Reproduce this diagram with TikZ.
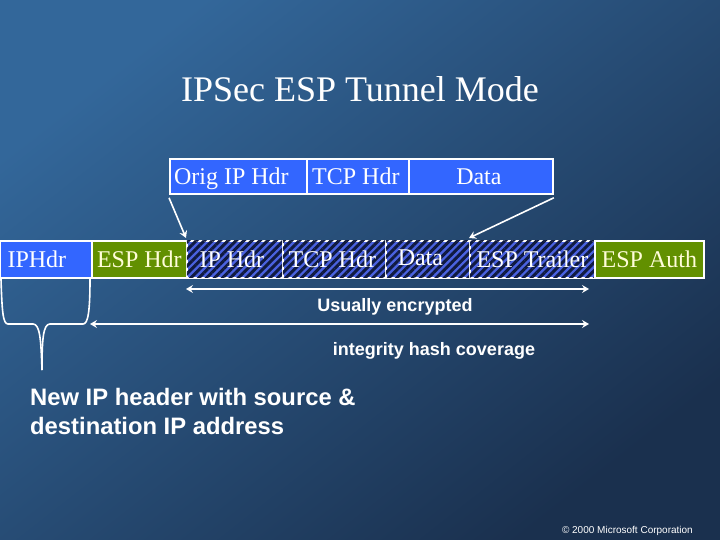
\documentclass[tikz,border=0pt]{standalone}
\usepackage{fontspec}
\setmainfont{Liberation Serif}
\setsansfont{Liberation Sans}
\usetikzlibrary{patterns.meta,arrows.meta}
\definecolor{bgtop}{HTML}{33679A}
\definecolor{bgbot}{HTML}{1A304E}
\definecolor{hdrblue}{HTML}{3366FF}
\definecolor{espgreen}{HTML}{629000}
\definecolor{hatchblue}{HTML}{4A62E0}
\definecolor{hatchdark}{HTML}{101A40}
\begin{document}
\begin{tikzpicture}[x=1pt,y=-1pt,>={Stealth[length=7pt,width=8pt,inset=2.5pt]}]
\tikzstyle{pkt}=[draw=white,line width=1.8pt,inner sep=0pt,anchor=north west,text=white,text height=21pt,text depth=5pt,font=\fontsize{24}{24}\selectfont]
\tikzstyle{plain}=[pkt,fill=hdrblue,minimum height=35pt]
\tikzstyle{low}=[pkt,fill=hdrblue,minimum height=37pt]
\tikzstyle{auth}=[pkt,fill=espgreen,minimum height=37pt,text=white!85!yellow]
\tikzstyle{enc}=[pkt,minimum height=37pt,fill=hatchblue,postaction={pattern={Lines[angle=45,distance=5.6pt,line width=3pt]},pattern color=hatchdark}]
\tikzstyle{link}=[draw=white,line width=1.6pt]
\tikzstyle{lbl}=[text=white,font=\sffamily\bfseries\fontsize{18}{18}\selectfont,inner sep=0pt]
\tikzstyle{note}=[text=white,font=\sffamily\bfseries\fontsize{23.8}{29}\selectfont,inner sep=0pt,align=left,anchor=north west]
\useasboundingbox (0,0) rectangle (720,540);
\shade[shading=axis,top color=bgtop,bottom color=bgbot,shading angle=38] (0,0) rectangle (720,540);
\node[text=white,font=\fontsize{36}{36}\selectfont,inner sep=0pt] at (360,89) (title) {IPSec ESP Tunnel Mode};
% original packet
\node[plain,minimum width=137pt] at (169,158) (orig) {\kern-14pt Orig IP Hdr};
\node[plain,minimum width=102pt] at (306,158) (tcp) {\kern-4pt TCP Hdr};
\node[plain,minimum width=144pt] at (408,158) (data) {\kern-4pt Data};
% packet in tunnel mode
\node[low,minimum width=92pt] at (-1,240) (newip) {\kern-18pt IPHdr};
\node[auth,minimum width=95pt] at (91,240) (esphdr) {ESP Hdr};
\node[enc,minimum width=96pt] at (186,240) (iphdr) {\kern-6pt IP Hdr};
\node[enc,minimum width=103pt] at (282,240) (tcphdr) {\kern-4pt TCP Hdr};
\node[enc,minimum width=84pt] at (385,240) (encdata) {\kern-15pt\raisebox{2pt}{Data}};
\node[enc,minimum width=125pt] at (469,240) (trailer) {ESP Trailer};
\node[auth,minimum width=109pt] at (594,240) (espauth) {ESP Auth};
\draw[link,->] ([yshift=-3pt]orig.south west) -- ([yshift=2pt]iphdr.north west);
\draw[link,->] ([yshift=-3pt]data.south east) -- ([yshift=2pt]trailer.north west);
% coverage
\coordinate (encl) at (186,289);
\coordinate (encr) at (589,289);
\coordinate (intl) at (90,324);
\coordinate (intr) at (589,324);
\draw[link,<->] (encl) -- (encr);
\draw[link,<->] (intl) -- (intr);
\node[lbl] at (395,307) (enclabel) {Usually encrypted};
\node[lbl] at (434,351) (intlabel) {integrity hash coverage};
% brace under new header
\coordinate (bracel) at (1,279);
\coordinate (bracer) at (90,279);
\coordinate (bracetip) at (42,370);
\draw[link] (bracel) .. controls (2,312) and (3,324) .. (8,324) -- (33,324) .. controls (40,324) and (41,340) .. (bracetip);
\draw[link] (bracer) .. controls (90,312) and (88,324) .. (83,324) -- (50,324) .. controls (43,324) and (42,340) .. (bracetip);
\node[note] at (30,388) (newnote) {New IP header with source \&\\destination IP address};
\node[text=white,font=\sffamily\fontsize{10}{10}\selectfont,inner sep=0pt,anchor=east] at (693,531) (copy) {© 2000 Microsoft Corporation};
\end{tikzpicture}
\end{document}
